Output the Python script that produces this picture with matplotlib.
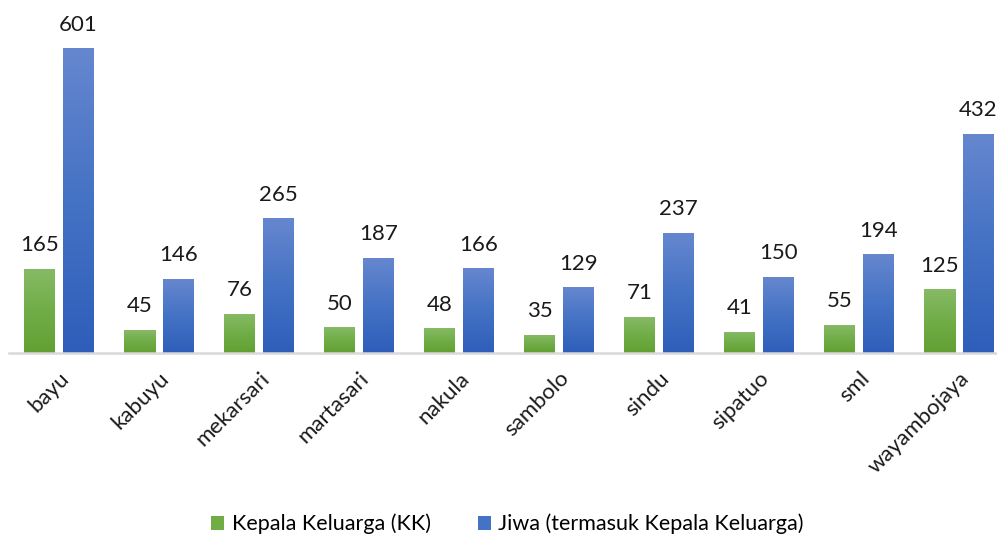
import matplotlib
matplotlib.use("Agg")
import matplotlib.pyplot as plt
import numpy as np
from matplotlib.colors import LinearSegmentedColormap
from matplotlib.patches import Patch

categories = ["bayu", "kabuyu", "mekarsari", "martasari", "nakula",
              "sambolo", "sindu", "sipatuo", "sml", "wayambojaya"]
kk = [165, 45, 76, 50, 48, 35, 71, 41, 55, 125]
jiwa = [601, 146, 265, 187, 166, 129, 237, 150, 194, 432]
series_names = ["Kepala Keluarga (KK)", "Jiwa (termasuk Kepala Keluarga)"]

plt.rcParams['font.family'] = ['Lato', 'DejaVu Sans']

fig = plt.figure(figsize=(9.97, 5.39), dpi=100)
ax = fig.add_axes([9/997, 1 - 353/539, 1000/997, 329/539])

x = np.arange(len(categories))
w = 0.31
off = 0.195
green_cmap = LinearSegmentedColormap.from_list("g", ["#62a033", "#70ad47", "#86ba65"])
blue_cmap = LinearSegmentedColormap.from_list("b", ["#2e5eba", "#4472c4", "#6687cf"])

grad = np.linspace(0, 1, 256).reshape(-1, 1)
for vals, dx, cmap in [(kk, -off, green_cmap), (jiwa, off, blue_cmap)]:
    bars = ax.bar(x + dx, vals, width=w, color="none", edgecolor="none", zorder=2)
    for b, v in zip(bars, vals):
        x0 = b.get_x()
        ax.imshow(grad, cmap=cmap, origin="lower", aspect="auto",
                  extent=[x0, x0 + w, 0, v], zorder=2)
        ax.text(x0 + w / 2, v + 28, str(v), ha="center", va="bottom",
                fontsize=16, color="#1a1a1a", clip_on=False)

ax.set_xlim(-0.5, len(categories) - 0.5)
ax.set_ylim(0, 650)
for s in ["top", "right", "left"]:
    ax.spines[s].set_visible(False)
ax.spines["bottom"].set_color("#d9d9d9")
ax.spines["bottom"].set_linewidth(1.8)
ax.set_yticks([])
ax.set_xticks(x)
ax.set_xticklabels(categories, rotation=45, ha="right", rotation_mode="anchor",
                   fontsize=16, color="#1a1a1a")
ax.tick_params(axis="x", length=0, pad=11)

handles = [Patch(facecolor="#70ad47"), Patch(facecolor="#4472c4")]
fig.legend(handles, series_names, loc="center", bbox_to_anchor=(0.509, 1 - 524/539),
           ncol=2, frameon=False, fontsize=15.5, handlelength=0.6, handleheight=0.6,
           handletextpad=0.35, columnspacing=2.2)

fig.savefig("out.png", dpi=100)
